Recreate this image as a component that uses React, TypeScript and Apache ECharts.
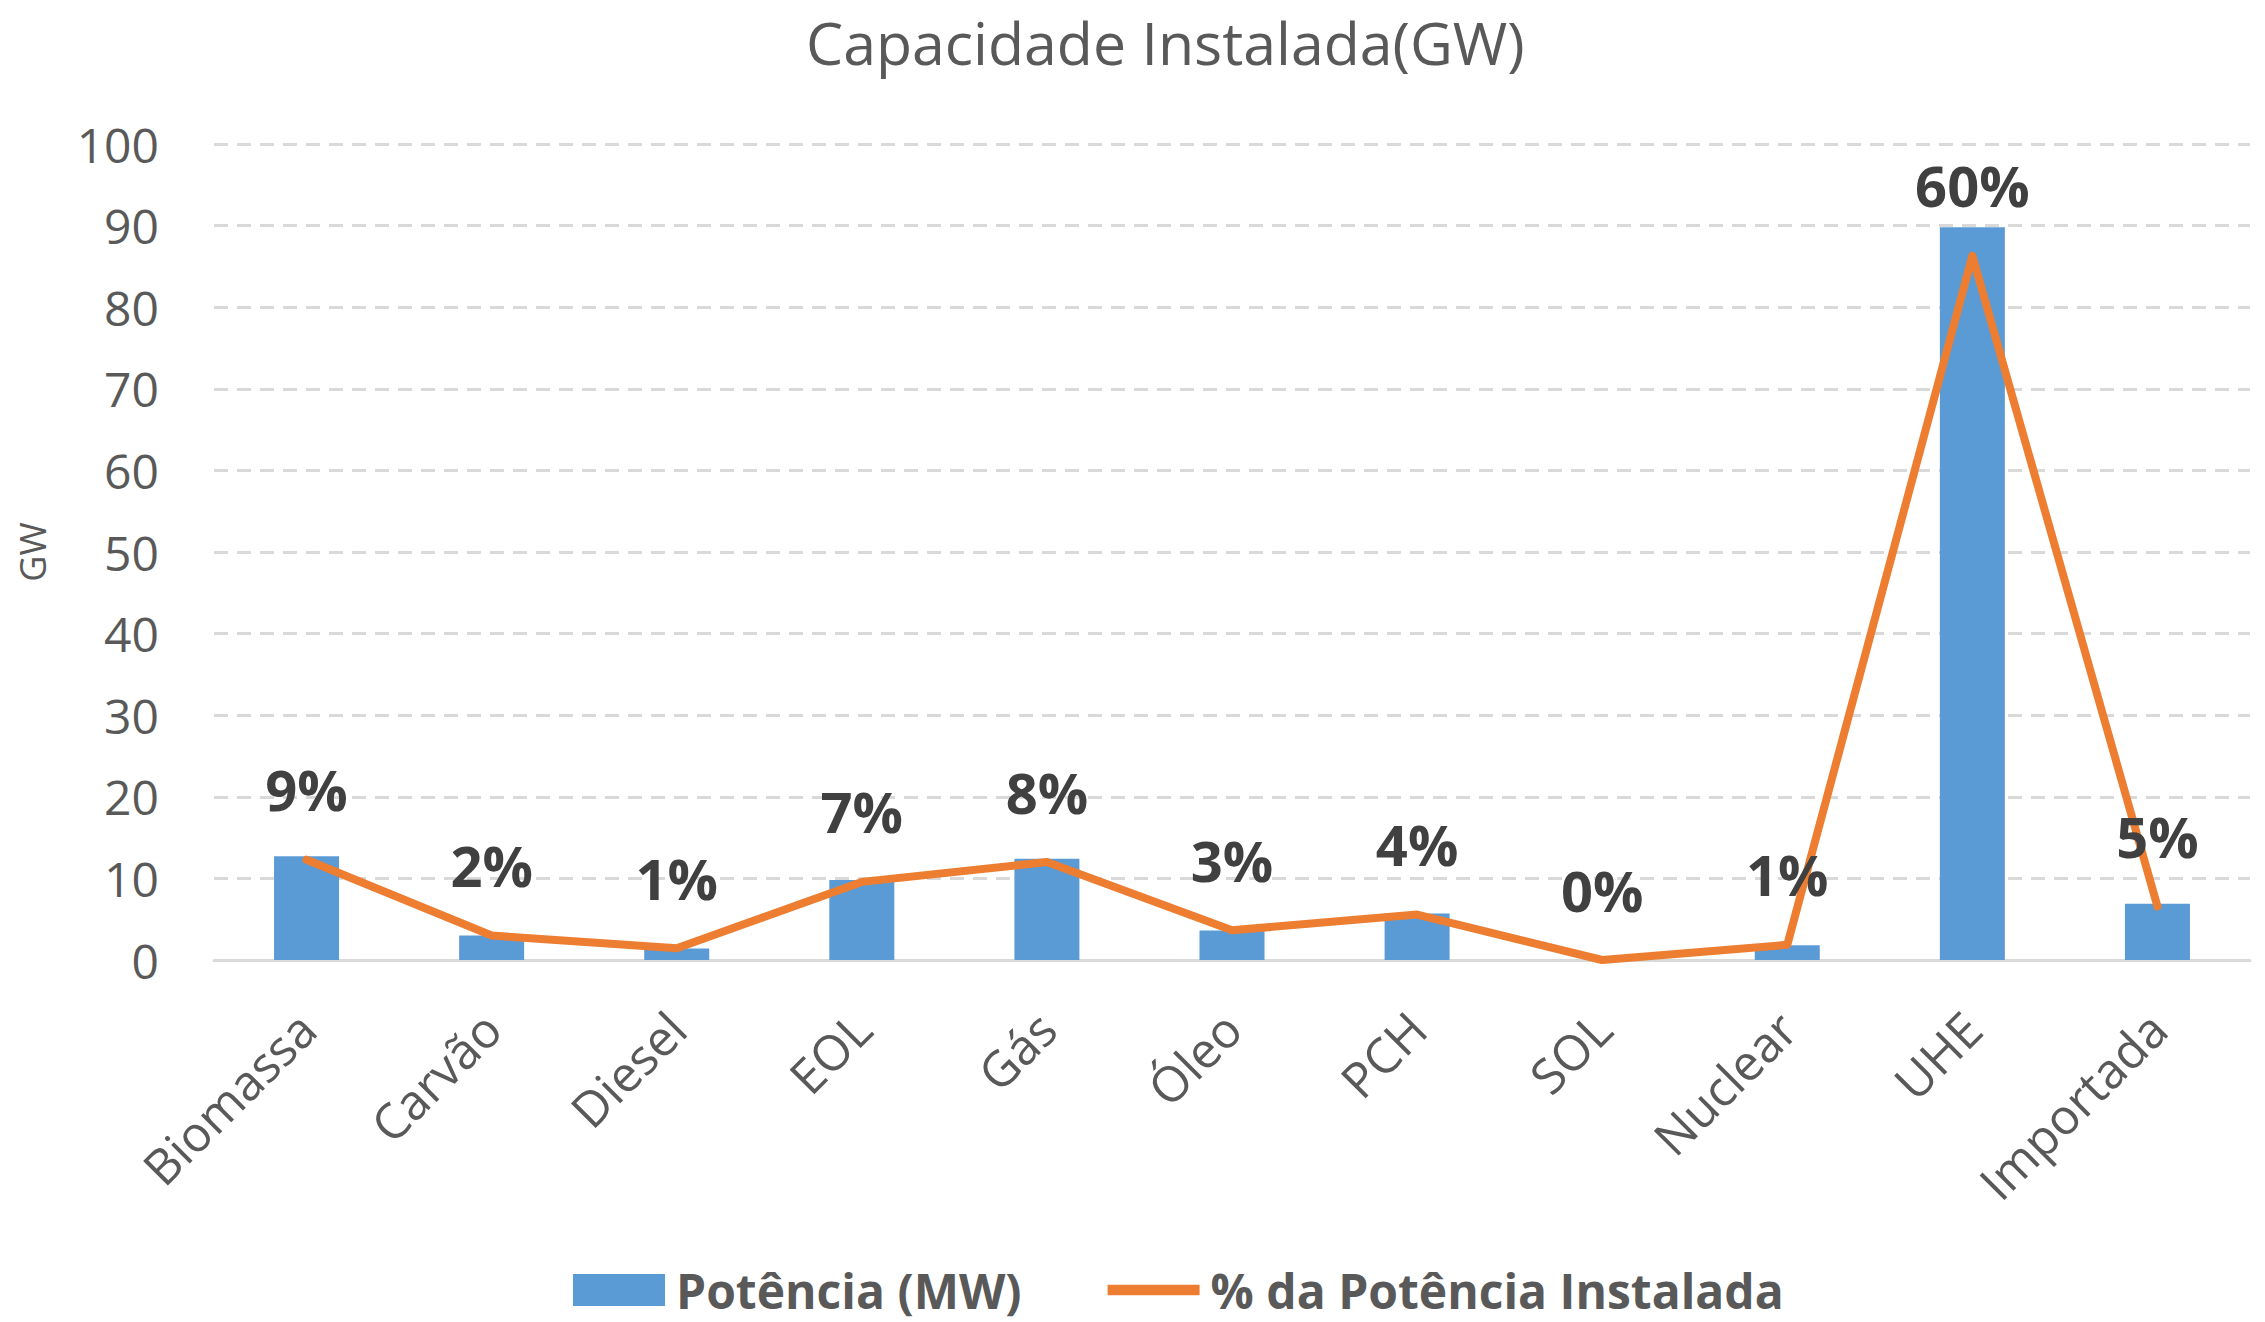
import React, { useEffect, useRef } from "react";
import * as echarts from "echarts";

const categories = ["Biomassa", "Carvão", "Diesel", "EOL", "Gás", "Óleo", "PCH", "SOL", "Nuclear", "UHE", "Importada"];
const potenciaGW = [12.7, 3.0, 1.4, 9.8, 12.4, 3.6, 5.7, 0.0, 1.8, 89.8, 6.9];
const percentual = [8.6, 2.1, 1.0, 6.7, 8.4, 2.55, 3.9, 0.0, 1.3, 60.4, 4.6];
const yMin = 0;
const yMax = 100;
const yStep = 10;
const pctAxisMax = 70;

const titleText = "Capacidade Instalada(GW)";
const barName = "Potência (MW)";
const lineName = "% da Potência Instalada";
const yAxisName = "GW";

const FONT = "Open Sans";

export default function App() {
  const ref = useRef<HTMLDivElement>(null);
  useEffect(() => {
    document.body.style.margin = "0";
    if (!ref.current) return;
    const chart = echarts.init(ref.current, undefined, { renderer: "svg" });
    chart.setOption({
      animation: false,
      backgroundColor: "#ffffff",
      textStyle: { fontFamily: FONT },
      title: {
        text: titleText,
        left: 806,
        top: 12,
        padding: 0,
        textStyle: { fontFamily: FONT, fontSize: 59, fontWeight: "normal", color: "#595959" },
      },
      legend: {
        top: 1266,
        left: 573,
        padding: 0,
        itemGap: 86,
        itemWidth: 92,
        itemHeight: 32,
        textStyle: { fontFamily: FONT, fontSize: 48, fontWeight: "bold", color: "#595959", padding: [0, 0, 0, 6] },
        data: [
          { name: barName, icon: "rect" },
          { name: lineName, icon: "path://M0,0H98V11H0Z" },
        ],
      },
      grid: { left: 214, right: 15, top: 144, bottom: 362, containLabel: false },
      xAxis: {
        type: "category",
        data: categories,
        axisLine: { show: true, lineStyle: { color: "#d9d9d9", width: 3 } },
        axisTick: { show: false },
        axisLabel: {
          rotate: 45,
          margin: 60,
          interval: 0,
          fontFamily: FONT,
          fontSize: 49,
          color: "#595959",
        },
      },
      yAxis: [
        {
          type: "value",
          min: yMin,
          max: yMax,
          interval: yStep,
          name: yAxisName,
          nameLocation: "middle",
          nameRotate: 90,
          nameGap: 164,
          nameTextStyle: { fontFamily: FONT, fontSize: 36, color: "#595959" },
          axisLine: { show: false },
          axisTick: { show: false },
          axisLabel: { margin: 55, fontFamily: FONT, fontSize: 48, color: "#595959" },
          splitLine: { show: true, lineStyle: { color: "#d9d9d9", width: 3, type: [14, 9] } },
        },
        {
          type: "value",
          min: 0,
          max: pctAxisMax,
          show: false,
          splitLine: { show: false },
        },
      ],
      series: [
        {
          name: barName,
          type: "bar",
          data: potenciaGW,
          barWidth: 65,
          itemStyle: { color: "#5b9bd5" },
          yAxisIndex: 0,
        },
        {
          name: lineName,
          type: "line",
          data: percentual,
          yAxisIndex: 1,
          symbol: "circle",
          symbolSize: 1,
          showSymbol: true,
          itemStyle: { color: "#ed7d31" },
          lineStyle: { color: "#ed7d31", width: 8, cap: "round", join: "round" },
          label: {
            show: true,
            position: "top",
            distance: 42,
            fontFamily: FONT,
            fontSize: 56,
            fontWeight: "bold",
            color: "#404040",
            formatter: (p: any) => `${Math.round(p.value)}%`,
          },
          z: 3,
        },
      ],
    });
    return () => chart.dispose();
  }, []);
  return <div ref={ref} style={{ width: 2265, height: 1322 }} />;
}
